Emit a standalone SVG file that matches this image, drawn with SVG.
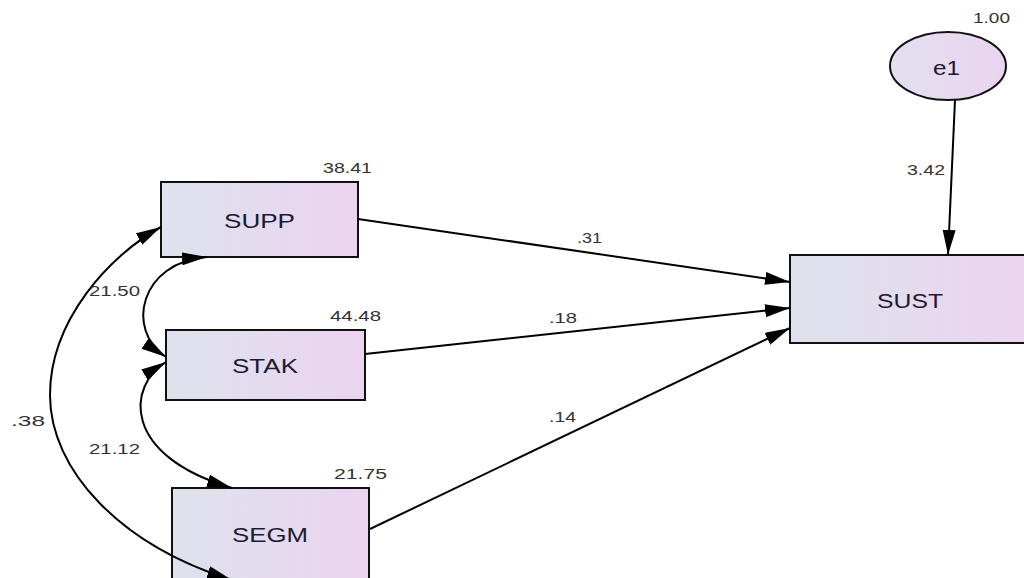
<svg xmlns="http://www.w3.org/2000/svg" width="1024" height="578" viewBox="0 0 1024 578">
<defs>
<linearGradient id="boxfill" x1="0" y1="0" x2="1" y2="0">
<stop offset="0" stop-color="#dde2ec"/>
<stop offset="1" stop-color="#ecd4f1"/>
</linearGradient>
<linearGradient id="ellfill" x1="0" y1="0" x2="1" y2="0">
<stop offset="0" stop-color="#e3e0ef"/>
<stop offset="1" stop-color="#ead4f0"/>
</linearGradient>
<marker id="arr" markerUnits="userSpaceOnUse" markerWidth="26" markerHeight="14" refX="25" refY="6.5" orient="auto-start-reverse" viewBox="0 0 26 14">
<path d="M0,0 L25,6.5 L0,13 z" fill="#000"/>
</marker>
<style>
.box{fill:url(#boxfill);stroke:#111;stroke-width:2}
.ell{fill:url(#ellfill);stroke:#111;stroke-width:2}
.lbl{font-family:"Liberation Sans",Arial,sans-serif;font-size:20px;fill:#1c1a30}
.num{font-family:"Liberation Sans",Arial,sans-serif;font-size:15px;fill:#333}
.con{fill:none;stroke:#000;stroke-width:2}
</style>
</defs>
<rect width="1024" height="578" fill="#fff"/>
<g id="SUPP">
<rect class="box" x="161" y="182" width="197" height="75"/>
<text class="lbl" x="224" y="228" textLength="71" lengthAdjust="spacingAndGlyphs">SUPP</text>
<text class="num" x="323" y="173" textLength="49" lengthAdjust="spacingAndGlyphs">38.41</text>
</g>
<g id="STAK">
<rect class="box" x="166" y="330" width="199" height="70"/>
<text class="lbl" x="232" y="373" textLength="66" lengthAdjust="spacingAndGlyphs">STAK</text>
<text class="num" x="330" y="321" textLength="51" lengthAdjust="spacingAndGlyphs">44.48</text>
</g>
<g id="SEGM">
<rect class="box" x="172" y="488" width="197" height="100"/>
<text class="lbl" x="232" y="542" textLength="76" lengthAdjust="spacingAndGlyphs">SEGM</text>
<text class="num" x="334" y="479" textLength="53" lengthAdjust="spacingAndGlyphs">21.75</text>
</g>
<g id="SUST">
<rect class="box" x="790" y="255" width="240" height="88"/>
<text class="lbl" x="877" y="308" textLength="66" lengthAdjust="spacingAndGlyphs">SUST</text>
</g>
<g id="e1">
<ellipse class="ell" cx="948" cy="66" rx="58" ry="34"/>
<text class="lbl" x="933" y="75" textLength="27" lengthAdjust="spacingAndGlyphs">e1</text>
<text class="num" x="973" y="23" textLength="37" lengthAdjust="spacingAndGlyphs">1.00</text>
</g>
<g id="connectors">
<path class="con" d="M358,219 L790,282" marker-end="url(#arr)"/>
<path class="con" d="M365,354 L790,308" marker-end="url(#arr)"/>
<path class="con" d="M370,529 L790,328" marker-end="url(#arr)"/>
<path class="con" d="M955,100 L948,255" marker-end="url(#arr)"/>
<path class="con" d="M207,257 C140,262 125,330 166,357" marker-start="url(#arr)" marker-end="url(#arr)"/>
<path class="con" d="M166,362 C128,385 120,455 232,488" marker-start="url(#arr)" marker-end="url(#arr)"/>
<path class="con" d="M161,227 C110,255 50,320 50,395 C50,470 120,545 232,580" marker-start="url(#arr)" marker-end="url(#arr)"/>
<text class="num" x="577" y="243" textLength="25" lengthAdjust="spacingAndGlyphs">.31</text>
<text class="num" x="549" y="323" textLength="28" lengthAdjust="spacingAndGlyphs">.18</text>
<text class="num" x="549" y="422" textLength="27" lengthAdjust="spacingAndGlyphs">.14</text>
<text class="num" x="907" y="175" textLength="38" lengthAdjust="spacingAndGlyphs">3.42</text>
<text class="num" x="89" y="296" textLength="51" lengthAdjust="spacingAndGlyphs">21.50</text>
<text class="num" x="89" y="454" textLength="51" lengthAdjust="spacingAndGlyphs">21.12</text>
<text class="num" x="11" y="426" textLength="34" lengthAdjust="spacingAndGlyphs">.38</text>
</g>
</svg>
